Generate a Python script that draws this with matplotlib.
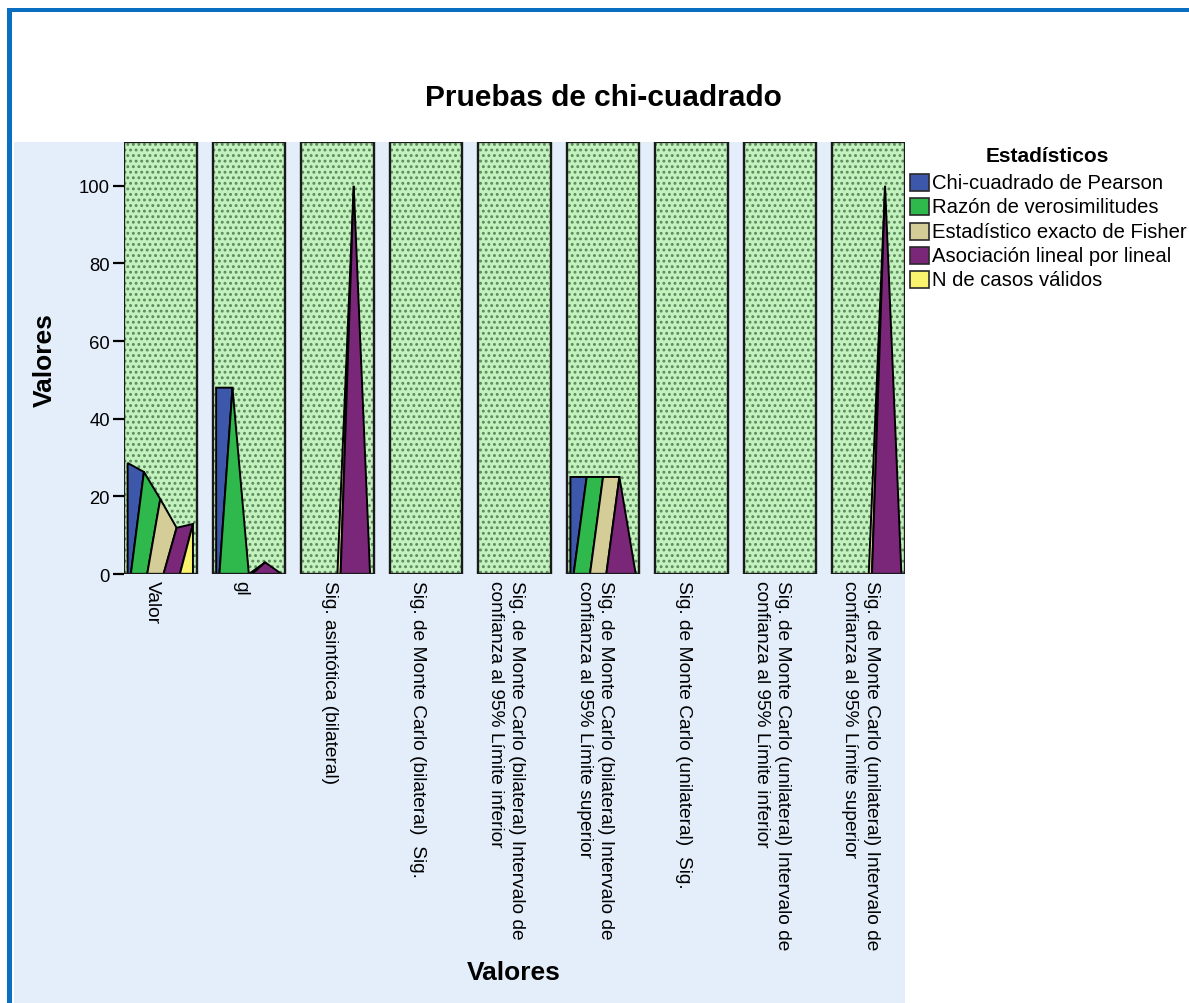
import matplotlib
matplotlib.use("Agg")
import matplotlib.pyplot as plt
from matplotlib.patches import Rectangle, Polygon

# ---------------------------
# Data
# ---------------------------
categorias = [
    "Valor",
    "gl",
    "Sig. asintótica (bilateral)",
    "Sig. de Monte Carlo (bilateral)  Sig.",
    "Sig. de Monte Carlo (bilateral) Intervalo de\nconfianza al 95% Límite inferior",
    "Sig. de Monte Carlo (bilateral) Intervalo de\nconfianza al 95% Límite superior",
    "Sig. de Monte Carlo (unilateral)  Sig.",
    "Sig. de Monte Carlo (unilateral) Intervalo de\nconfianza al 95% Límite inferior",
    "Sig. de Monte Carlo (unilateral) Intervalo de\nconfianza al 95% Límite superior",
]
estadisticos = [
    "Chi-cuadrado de Pearson",
    "Razón de verosimilitudes",
    "Estadístico exacto de Fisher",
    "Asociación lineal por lineal",
    "N de casos válidos",
]
chi_pearson = [28.6, 48, 0, 0, 0, 25, 0, 0, 0]
razon_verosim = [26.3, 48, 0, 0, 0, 25, 0, 0, 0]
fisher_exacto = [19.3, 0, 0, 0, 0, 25, 0, 0, 0]
asociacion_lineal = [11.9, 3, 100, 0, 0, 25, 0, 0, 100]
n_validos = [12.9, 0, 0, 0, 0, 0, 0, 0, 0]
y_ticks = [0, 20, 40, 60, 80, 100]

# ---------------------------
# Style knobs
# ---------------------------
W_PX, H_PX = 1189, 1004
COLORS = ["#3D57AB", "#2FB84C", "#D5CD97", "#7A2779", "#FAF36D"]
PANEL_FACE = "#C4F2BE"
PANEL_DOTS = "#5A8A5C"
BG_BLUE = "#E3EEFA"
FRAME_BLUE = "#0A6FC0"
PERIOD = 5.42   # distance between panels (data units)
MARGIN = 0.22   # gap between panel edge and first/last point
DELTA = 0.2     # foot shift of the slanted dividers
Y_MAX = 111.3

plt.rcParams["font.family"] = ["Liberation Sans", "DejaVu Sans"]
plt.rcParams["hatch.linewidth"] = 1.3


def fx(x):
    return x / W_PX


def fy(y):
    return 1 - y / H_PX


def _fig_rect(fig, x0, y0, x1, y1, **kw):
    """Rectangle given in pixel coords (top-left origin)."""
    fig.add_artist(Rectangle((fx(x0), fy(y1)), fx(x1) - fx(x0), fy(y0) - fy(y1),
                             transform=fig.transFigure, **kw))


def _draw_panel(ax, i, vals):
    x0 = i * PERIOD
    ax.add_patch(Rectangle((x0 - MARGIN, 0), 4 + 2 * MARGIN, Y_MAX,
                           facecolor=PANEL_FACE, edgecolor=PANEL_DOTS,
                           hatch="...", lw=0, zorder=1))
    t = [x0 + k for k in range(5)]
    b = [t[0]] + [t[k - 1] + DELTA for k in range(1, 5)] + [t[4]]
    for k in range(5):
        if k < 4:
            pts = [(b[k], 0), (t[k], vals[k]), (t[k + 1], vals[k + 1]), (b[k + 1], 0)]
        else:
            pts = [(b[k], 0), (t[k], vals[k]), (b[k + 1], 0)]
        ax.add_patch(Polygon(pts, closed=True, facecolor=COLORS[k],
                             edgecolor="black", lw=1.4, zorder=2))
    ax.add_patch(Rectangle((x0 - MARGIN, 0), 4 + 2 * MARGIN, Y_MAX,
                           fill=False, edgecolor="#1a1a1a", lw=1.7, zorder=4))


def main():
    fig = plt.figure(figsize=(W_PX / 100, H_PX / 100), dpi=100)

    # chart background and outer frame
    _fig_rect(fig, 14, 143, 905, 1004, facecolor=BG_BLUE, lw=0, zorder=0)
    _fig_rect(fig, 7, 9, W_PX, 13, facecolor=FRAME_BLUE, lw=0, zorder=0)
    _fig_rect(fig, 7, 9, 12, H_PX, facecolor=FRAME_BLUE, lw=0, zorder=0)

    ax = fig.add_axes([fx(124), fy(575), fx(905) - fx(124), fy(143) - fy(575)])
    ax.set_facecolor("none")
    for s in ax.spines.values():
        s.set_visible(False)

    series = [chi_pearson, razon_verosim, fisher_exacto, asociacion_lineal, n_validos]
    for i in range(len(categorias)):
        _draw_panel(ax, i, [s[i] for s in series])

    ax.set_xlim(-MARGIN, (len(categorias) - 1) * PERIOD + 4 + MARGIN)
    ax.set_ylim(0, Y_MAX)

    ax.set_yticks(y_ticks)
    ax.tick_params(axis="y", length=8, width=1.6, labelsize=13.3, pad=2)
    ax.set_xticks([i * PERIOD + 2 - 0.5 for i in range(len(categorias))])
    ax.set_xticklabels(categorias, rotation=270, ha="center", va="top", fontsize=13.8)
    ax.tick_params(axis="x", length=0, pad=4)
    for lbl in ax.get_xticklabels():
        lbl.set_multialignment("left")
        lbl.set_linespacing(1.32)

    # titles
    fig.text(fx(603), fy(98), "Pruebas de chi-cuadrado", ha="center", va="center",
             fontsize=21.5, fontweight="bold")
    fig.text(fx(45), fy(360), "Valores", rotation=90, ha="center", va="center",
             fontsize=19, fontweight="bold")
    fig.text(fx(514), fy(973), "Valores", ha="center", va="center",
             fontsize=19, fontweight="bold")

    # legend
    fig.text(fx(1047), fy(157), "Estadísticos", ha="center", va="center",
             fontsize=15, fontweight="bold")
    for k, name in enumerate(estadisticos):
        yc = 183.5 + k * 24.3
        _fig_rect(fig, 910, yc - 8.5, 929, yc + 8.5, facecolor=COLORS[k],
                  edgecolor="#2a2a2a", lw=1.2, zorder=2)
        fig.text(fx(932), fy(yc), name, ha="left", va="center", fontsize=14.6)

    fig.savefig("out.png", dpi=100)


if __name__ == "__main__":
    main()
